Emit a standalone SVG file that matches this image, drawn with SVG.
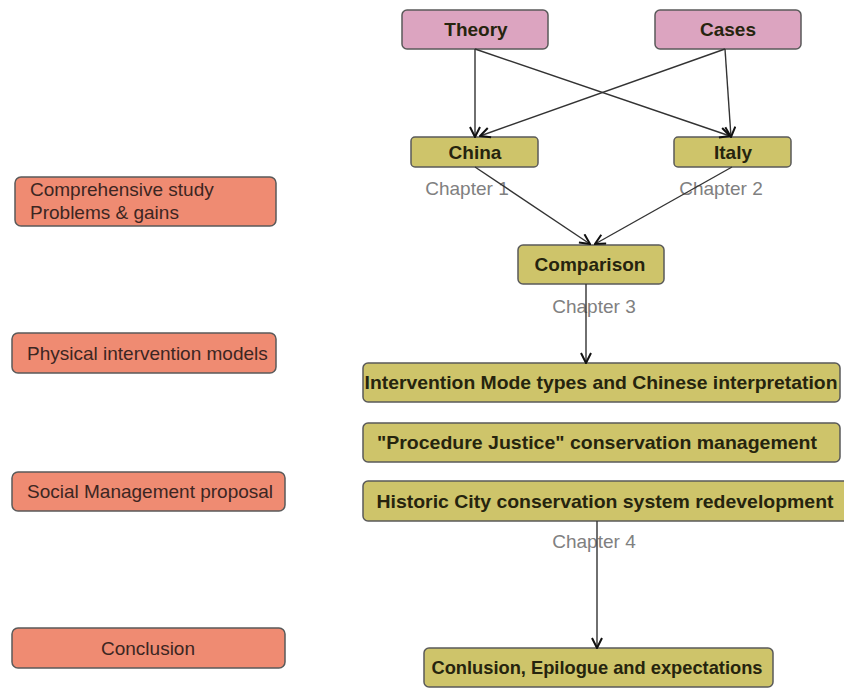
<svg xmlns="http://www.w3.org/2000/svg" width="844" height="688" viewBox="0 0 844 688">
<style>
.box{stroke:#5a5a5a;stroke-width:1.5}
.pink{fill:#dca4c0}
.olive{fill:#cec46a}
.salmon{fill:#ef8b72}
.bt{font-family:"Liberation Sans",Arial,sans-serif;font-weight:bold;font-size:19px;fill:#26240e;text-anchor:middle}
.lt{font-family:"Liberation Sans",Arial,sans-serif;font-size:19px;fill:#3c2622}
.ch{font-family:"Liberation Sans",Arial,sans-serif;font-size:19px;fill:#808080;text-anchor:middle}
.edge{stroke:#333;stroke-width:1.4;fill:none;marker-end:url(#arr)}
</style>
<defs>
<marker id="arr" viewBox="0 0 12 12" refX="11" refY="6" markerWidth="12" markerHeight="12" markerUnits="userSpaceOnUse" orient="auto">
<path d="M1,1 L11,6 L1,11" fill="none" stroke="#111" stroke-width="2"/>
</marker>
</defs>
<rect width="844" height="688" fill="#fff"/>

<g id="labels">
<text class="ch" x="467" y="195">Chapter 1</text>
<text class="ch" x="721" y="195">Chapter 2</text>
<text class="ch" x="594" y="313">Chapter 3</text>
<text class="ch" x="594" y="548">Chapter 4</text>
</g>

<g id="theory"><rect class="box pink" x="402" y="10" width="146" height="39" rx="5"/><text class="bt" x="476" y="36">Theory</text></g>
<g id="cases"><rect class="box pink" x="655" y="10" width="146" height="39" rx="5"/><text class="bt" x="728" y="36">Cases</text></g>
<g id="china"><rect class="box olive" x="411" y="137" width="127" height="30" rx="4"/><text class="bt" x="475" y="159">China</text></g>
<g id="italy"><rect class="box olive" x="674" y="137" width="117" height="30" rx="4"/><text class="bt" x="733" y="159">Italy</text></g>
<g id="comparison"><rect class="box olive" x="518" y="245" width="146" height="39" rx="5"/><text class="bt" x="590" y="271">Comparison</text></g>
<g id="intervention"><rect class="box olive" x="363" y="363" width="477" height="39" rx="5"/><text class="bt" x="601" y="389" textLength="473" lengthAdjust="spacingAndGlyphs">Intervention Mode types and Chinese interpretation</text></g>
<g id="procedure"><rect class="box olive" x="363" y="423" width="477" height="39" rx="5"/><text class="bt" x="597" y="449" textLength="440" lengthAdjust="spacingAndGlyphs">"Procedure Justice" conservation management</text></g>
<g id="historic"><rect class="box olive" x="363" y="481" width="485" height="40" rx="5"/><text class="bt" x="605" y="508" textLength="457" lengthAdjust="spacingAndGlyphs">Historic City conservation system redevelopment</text></g>
<g id="conlusion"><rect class="box olive" x="424" y="648" width="349" height="39" rx="5"/><text class="bt" x="597" y="674" textLength="331" lengthAdjust="spacingAndGlyphs">Conlusion, Epilogue and expectations</text></g>

<g id="comprehensive"><rect class="box salmon" x="15" y="177" width="261" height="49" rx="6"/><text class="lt" x="30" y="196">Comprehensive study</text><text class="lt" x="30" y="219">Problems &amp; gains</text></g>
<g id="physical"><rect class="box salmon" x="12" y="333" width="264" height="40" rx="6"/><text class="lt" x="27" y="360">Physical intervention models</text></g>
<g id="social"><rect class="box salmon" x="12" y="472" width="273" height="39" rx="6"/><text class="lt" x="27" y="498">Social Management proposal</text></g>
<g id="conclusion"><rect class="box salmon" x="12" y="628" width="273" height="40" rx="6"/><text class="lt" x="148" y="655" text-anchor="middle">Conclusion</text></g>

<g id="connectors">
<line class="edge" x1="475" y1="49" x2="475" y2="137"/>
<line class="edge" x1="475" y1="49" x2="730" y2="136"/>
<line class="edge" x1="725" y1="49" x2="480" y2="136"/>
<line class="edge" x1="725" y1="49" x2="731" y2="137"/>
<line class="edge" x1="475" y1="167" x2="590" y2="244"/>
<line class="edge" x1="732" y1="167" x2="595" y2="244"/>
<line class="edge" x1="586" y1="284" x2="586" y2="363"/>
<line class="edge" x1="597" y1="521" x2="597" y2="648"/>
</g>
</svg>
